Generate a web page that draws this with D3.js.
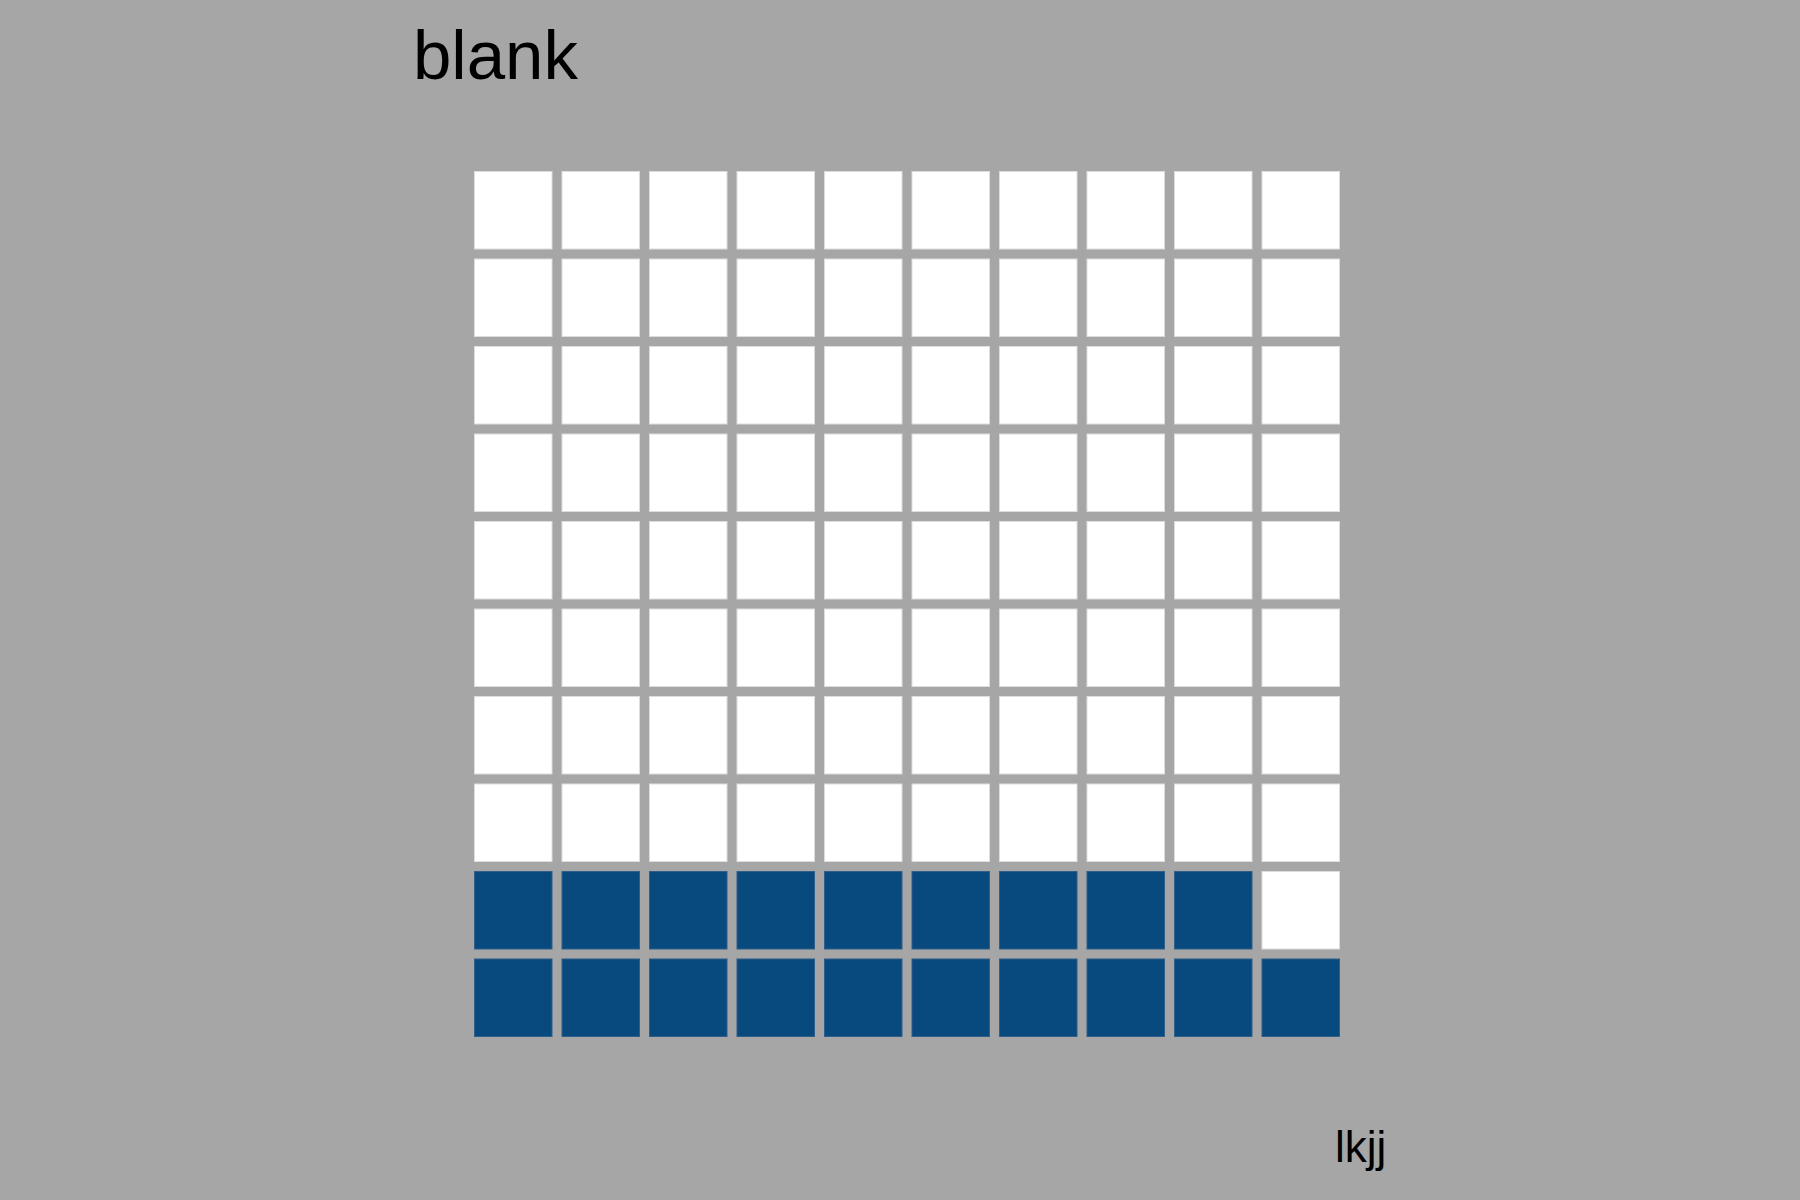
<!DOCTYPE html>
<html><head><meta charset="utf-8">
<script src="https://cdn.jsdelivr.net/npm/d3@7"></script>
<style>html,body{margin:0;padding:0;background:#a6a6a6;}svg{display:block;}</style>
</head><body>
<script>
const title = "blank";
const caption = "lkjj";
const categories = ["filled", "empty"];
const values = [19, 81];
const colors = ["#08497e", "#ffffff"];
const gridCols = 10, gridRows = 10;

const W = 1800, H = 1200;
const svg = d3.select("body").append("svg").attr("width", W).attr("height", H);
svg.append("rect").attr("width", W).attr("height", H).attr("fill", "#a6a6a6");

const x = d3.scaleBand().domain(d3.range(gridCols)).range([474, 1340]).paddingInner(9/87.5).paddingOuter(0);
const y = d3.scaleBand().domain(d3.range(gridRows)).range([1037, 171]).paddingInner(9/87.5).paddingOuter(0);

// build cells: fill bottom-up, left to right
const cells = [];
let idx = 0;
categories.forEach((c, ci) => {
  for (let k = 0; k < values[ci]; k++) {
    cells.push({cat: ci, col: idx % gridCols, row: Math.floor(idx / gridCols)});
    idx++;
  }
});

svg.append("g").selectAll("rect").data(cells).join("rect")
  .attr("x", d => x(d.col) + 0.5)
  .attr("y", d => y(d.row) + 0.5)
  .attr("width", x.bandwidth() - 1)
  .attr("height", y.bandwidth() - 1)
  .attr("fill", d => colors[d.cat])
  .attr("stroke", d => d.cat === 0 ? "#2f5f8a" : "#dddddd")
  .attr("stroke-width", 1);

svg.append("text").attr("x", 413).attr("y", 79)
  .attr("font-family", "Liberation Sans, Arial, sans-serif").attr("font-size", 69)
  .attr("fill", "#000").text(title);

svg.append("text").attr("x", 1335).attr("y", 1162)
  .attr("font-family", "Liberation Sans, Arial, sans-serif").attr("font-size", 44)
  .attr("fill", "#000").text(caption);
</script>
</body></html>
